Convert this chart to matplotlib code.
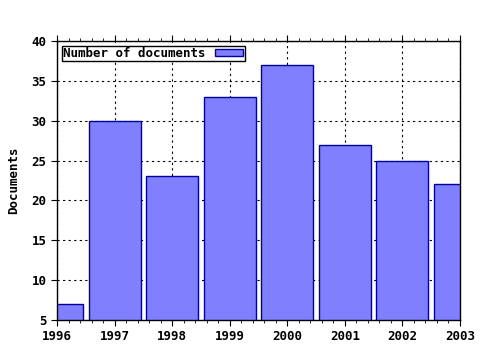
import matplotlib
matplotlib.use("Agg")
import matplotlib.pyplot as plt
from matplotlib.ticker import MultipleLocator

years = [1996, 1997, 1998, 1999, 2000, 2001, 2002, 2003]
docs = [7, 30, 23, 33, 37, 27, 25, 22]

plt.rcParams['font.family'] = 'DejaVu Sans Mono'
plt.rcParams['font.weight'] = 'bold'

fig = plt.figure(figsize=(4.8, 3.5), dpi=100)
ax = fig.add_axes([0.119, 0.086, 0.839, 0.797])

ax.bar(years, docs, width=0.9, bottom=0, color="#8080ff", edgecolor="#0000a0",
       linewidth=1, label="Number of documents", zorder=2)

ax.set_xlim(1996, 2003)
ax.set_ylim(5, 40)
ax.xaxis.set_major_locator(MultipleLocator(1))
ax.xaxis.set_minor_locator(MultipleLocator(0.2))
ax.yaxis.set_major_locator(MultipleLocator(5))
ax.grid(True, which="major", linestyle=(0, (2, 3)), color="black", linewidth=0.8, zorder=0)
ax.set_axisbelow(True)

ax.tick_params(axis="x", which="both", top=True, direction="out", labelsize=9, pad=3)
ax.tick_params(axis="x", which="major", length=4)
ax.tick_params(axis="x", which="minor", length=2)
ax.tick_params(axis="y", direction="out", length=4, labelsize=9)
for s in ax.spines.values():
    s.set_linewidth(1)

ax.set_ylabel("Documents", fontsize=9, fontweight="bold", labelpad=8)

leg = ax.legend(loc="upper left", markerfirst=False, fancybox=False, framealpha=1,
                edgecolor="black", fontsize=9, borderpad=0.1, handlelength=2.3,
                handleheight=0.45, handletextpad=0.7, borderaxespad=0.4)
leg.get_frame().set_linewidth(1)

fig.savefig("out.png", dpi=100)
